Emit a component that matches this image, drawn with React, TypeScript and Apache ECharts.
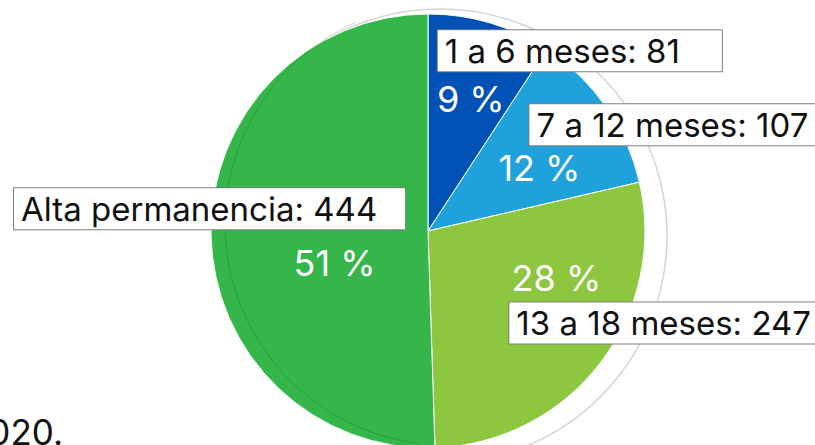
import React, { useEffect, useRef } from "react";
import * as echarts from "echarts";

const categories = ["1 a 6 meses", "7 a 12 meses", "13 a 18 meses", "Alta permanencia"];
const values = [81, 107, 247, 444];
const colors = ["#0051B5", "#1FA1DC", "#8DC63F", "#34B64A"];
const footText = "2020.";

// label placement (offsets from ECharts' default inside position) and box widths
const pctOffsets = [[11, -25], [20, 1], [40, -21], [18, 30]];
const boxOffsets = [[-22, -73.5], [10, -42.5], [-7, 24], [-302.5, -24]];
const boxWidths = [284, 300, 320, 391];

export default function App() {
  const ref = useRef<HTMLDivElement>(null);
  useEffect(() => {
    if (!ref.current) return;
    const chart = echarts.init(ref.current, undefined, { renderer: "svg" });
    const center = [428, 231];
    const radius = 217;
    const font = "Inter, 'Noto Sans', sans-serif";
    chart.setOption({
      animation: false,
      backgroundColor: "#ffffff",
      series: [
        {
          // bevel / rim behind the pie (right side only)
          type: "pie",
          silent: true,
          z: 1,
          center: [440, 236],
          radius: 227,
          startAngle: 118,
          clockwise: true,
          label: { show: false },
          labelLine: { show: false },
          data: [
            { name: "rim", value: 213, itemStyle: { color: "#ffffff", borderColor: "#d4d4d4", borderWidth: 1.5 } },
            { name: "rest", value: 147, itemStyle: { color: "#ffffff", borderWidth: 0 } },
          ],
        },
        {
          type: "pie",
          silent: true,
          z: 2,
          center,
          radius,
          startAngle: 90,
          clockwise: true,
          itemStyle: { borderColor: "#ffffff", borderWidth: 1 },
          label: {
            show: true,
            position: "inside",
            color: "#ffffff",
            fontFamily: font,
            fontSize: 36,
            formatter: (p: any) => Math.round(p.percent) + " %",
          },
          labelLine: { show: false },
          labelLayout: (p: any) => ({ dx: pctOffsets[p.dataIndex][0], dy: pctOffsets[p.dataIndex][1] }),
          data: categories.map((c, i) => ({ name: c, value: values[i], itemStyle: { color: colors[i] } })),
        },
        {
          type: "pie",
          silent: true,
          z: 4,
          center,
          radius,
          startAngle: 90,
          clockwise: true,
          itemStyle: { color: "rgba(0,0,0,0)", borderWidth: 0 },
          label: {
            show: true,
            position: "inside",
            color: "#111111",
            fontFamily: font,
            fontSize: 33,
            lineHeight: 41,
            backgroundColor: "#ffffff",
            borderColor: "#808080",
            borderWidth: 1,
            padding: [0, 7],
            formatter: "{b}: {c}",
          },
          labelLine: { show: false },
          labelLayout: (p: any) => ({
            dx: boxOffsets[p.dataIndex][0],
            dy: boxOffsets[p.dataIndex][1],
            align: "left",
            verticalAlign: "middle",
          }),
          data: categories.map((c, i) => ({
            name: c,
            value: values[i],
            label: { width: boxWidths[i] - 14, align: "left" },
          })),
        },
      ],
      graphic: [
        {
          // faint bevel line inside the large slice
          type: "arc",
          silent: true,
          z: 3,
          shape: { cx: 446, cy: 224, r: 221, startAngle: (97 * Math.PI) / 180, endAngle: (246 * Math.PI) / 180, clockwise: true },
          style: { stroke: "rgba(20,70,20,0.22)", lineWidth: 1, fill: null },
        },
        {
          type: "text",
          left: -33,
          top: 414,
          style: { text: footText, fontFamily: font, fontSize: 35, fill: "#111111" },
        },
      ],
    });
    return () => chart.dispose();
  }, []);
  return <div ref={ref} style={{ position: "fixed", left: 0, top: 0, width: 815, height: 445 }} />;
}
